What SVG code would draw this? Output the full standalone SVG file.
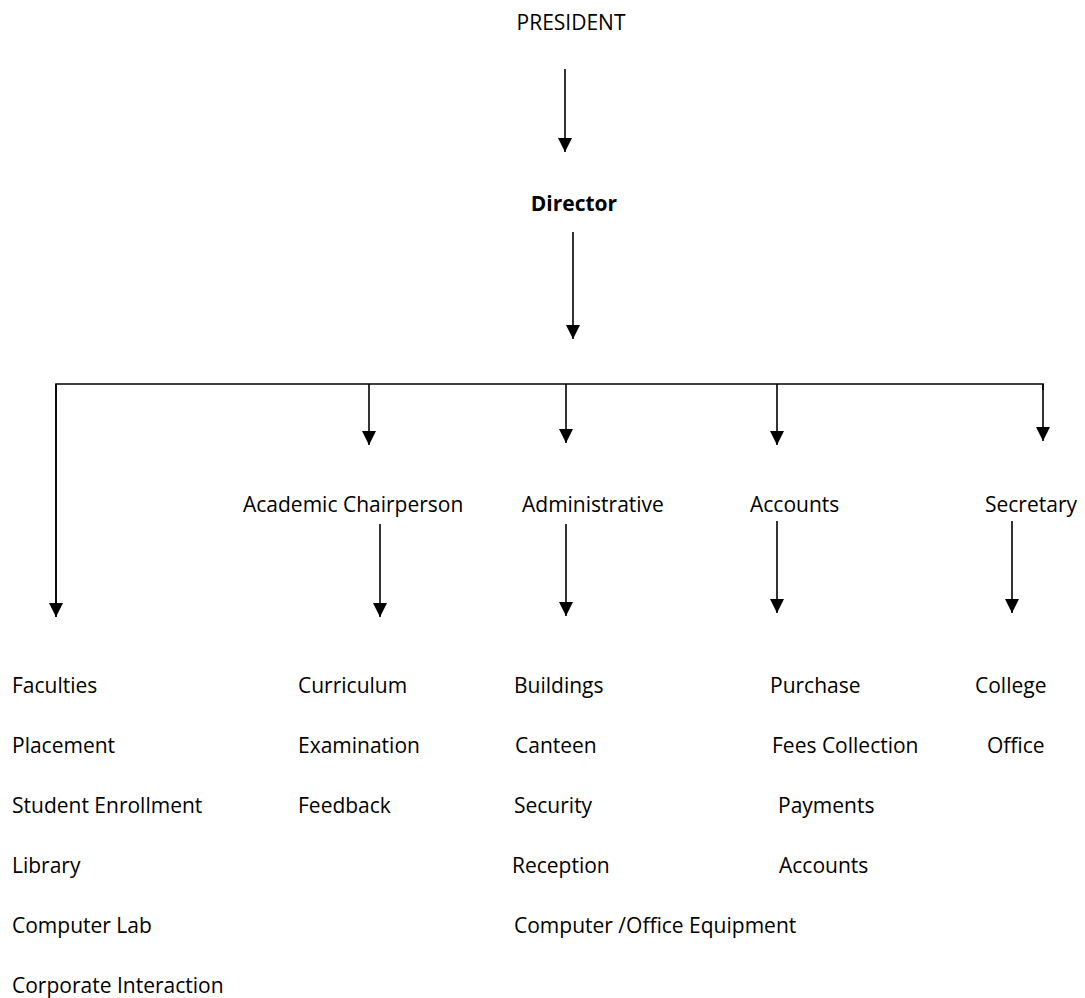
<svg xmlns="http://www.w3.org/2000/svg" width="1085" height="998" viewBox="0 0 1085 998">
<style>
  text { font-family: "Open Sans", "Liberation Sans", sans-serif; font-size: 21px; fill: #000; }
  .b { font-weight: bold; }
  .c { fill: none; stroke: #000; stroke-width: 1.6; }
  .a { fill: none; stroke: #000; stroke-width: 1.6; marker-end: url(#ah); }
</style>
<defs>
  <marker id="ah" markerUnits="userSpaceOnUse" markerWidth="14" markerHeight="14" refX="14" refY="7" orient="auto">
    <path d="M0,0 L14,7 L0,14 z" fill="#000"/>
  </marker>
</defs>
<rect width="1085" height="998" fill="#fff"/>
<g id="connectors">
  <line class="a" x1="565" y1="69" x2="565" y2="152"/>
  <line class="a" x1="573" y1="232" x2="573" y2="339"/>
  <polyline class="c" points="56,617 56,384 1043,384 1043,390"/>
  <line class="a" x1="56" y1="384" x2="56" y2="617"/>
  <line class="a" x1="369" y1="384" x2="369" y2="445"/>
  <line class="a" x1="566" y1="384" x2="566" y2="443"/>
  <line class="a" x1="777" y1="384" x2="777" y2="445"/>
  <line class="a" x1="1043" y1="384" x2="1043" y2="441"/>
  <line class="a" x1="380" y1="524" x2="380" y2="617"/>
  <line class="a" x1="566" y1="524" x2="566" y2="616"/>
  <line class="a" x1="777" y1="521" x2="777" y2="613"/>
  <line class="a" x1="1012" y1="521" x2="1012" y2="613"/>
</g>
<g id="president"><text x="571" y="30" text-anchor="middle">PRESIDENT</text></g>
<g id="director"><text class="b" x="574" y="211" text-anchor="middle">Director</text></g>
<g id="academic"><text x="243" y="512">Academic Chairperson</text></g>
<g id="administrative"><text x="522" y="512">Administrative</text></g>
<g id="accounts"><text x="750" y="512">Accounts</text></g>
<g id="secretary"><text x="985" y="512">Secretary</text></g>
<g id="director-units">
  <text x="12" y="693">Faculties</text>
  <text x="12" y="753">Placement</text>
  <text x="12" y="813">Student Enrollment</text>
  <text x="12" y="873">Library</text>
  <text x="12" y="933">Computer Lab</text>
  <text x="12" y="993">Corporate Interaction</text>
</g>
<g id="academic-units">
  <text x="298" y="693">Curriculum</text>
  <text x="298" y="753">Examination</text>
  <text x="298" y="813">Feedback</text>
</g>
<g id="administrative-units">
  <text x="514" y="693">Buildings</text>
  <text x="515" y="753">Canteen</text>
  <text x="514" y="813">Security</text>
  <text x="512" y="873">Reception</text>
  <text x="514" y="933">Computer /Office Equipment</text>
</g>
<g id="accounts-units">
  <text x="770" y="693">Purchase</text>
  <text x="772" y="753">Fees Collection</text>
  <text x="778" y="813">Payments</text>
  <text x="779" y="873">Accounts</text>
</g>
<g id="secretary-units">
  <text x="975" y="693">College</text>
  <text x="987" y="753">Office</text>
</g>
</svg>
